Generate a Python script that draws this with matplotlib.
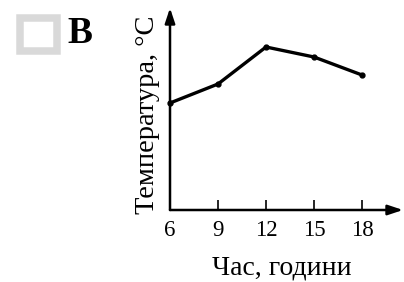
import matplotlib
matplotlib.use("Agg")
import matplotlib.pyplot as plt
from matplotlib.patches import Rectangle

hours = [6, 9, 12, 15, 18]
temps = [10.7, 12.6, 16.3, 15.3, 13.5]
tick_labels = ["6", "9", "12", "15", "18"]
ylabel = "Температура, °C"
xlabel = "Час, години"
panel = "B"

W, H = 404, 282
fig = plt.figure(figsize=(W / 100, H / 100), dpi=100)
fig.patch.set_facecolor("white")

serif = ["Liberation Serif", "DejaVu Serif"]

ax = fig.add_axes([170 / W, (H - 210) / H, (403 - 170) / W, (210 - 8) / H])
ax.set_xlim(6, 6 + (403 - 170) / 16)
ax.set_ylim(0, 20.2)
for s in ax.spines.values():
    s.set_visible(False)
ax.patch.set_alpha(0)

# axes with arrows
ax.annotate("", xy=(1, 0), xytext=(0, 0), xycoords="axes fraction",
            arrowprops=dict(arrowstyle="-|>,head_length=0.9,head_width=0.3", lw=1.8, color="black",
                            shrinkA=0, shrinkB=0), annotation_clip=False)
ax.annotate("", xy=(0, 1), xytext=(0, 0), xycoords="axes fraction",
            arrowprops=dict(arrowstyle="-|>,head_length=0.9,head_width=0.3", lw=1.8, color="black",
                            shrinkA=0, shrinkB=0), annotation_clip=False)

ax.plot(hours, temps, color="black", lw=2.4, marker="o", ms=3.5, clip_on=False, zorder=5)

ax.set_xticks(hours)
ax.set_xticklabels(tick_labels, family=serif, fontsize=16.5)
ax.tick_params(axis="x", direction="in", length=7, width=1.2, pad=7)
ax.set_yticks([])

fig.text(147 / W, 1 - 115 / H, ylabel, rotation=90, ha="center", va="center",
         family=serif, fontsize=20.5)
fig.text(282 / W, 1 - 275 / H, xlabel, ha="center", va="baseline",
         family=serif, fontsize=20)

# checkbox and panel letter
fig.patches.append(Rectangle((19.5 / W, 1 - 50.5 / H), 37 / W, 33 / H, transform=fig.transFigure,
                             facecolor="white", edgecolor="#d9d9d9", lw=5.4))
fig.text(67 / W, 1 - 43 / H, panel, ha="left", va="baseline", family=serif,
         fontsize=27, fontweight="bold")

fig.savefig("out.png", dpi=100)
